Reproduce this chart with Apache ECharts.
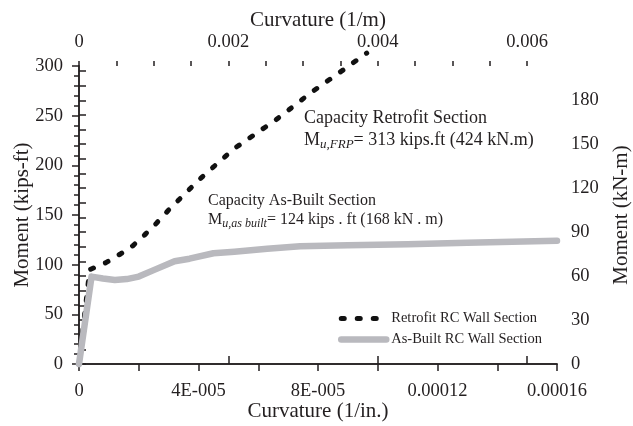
<!DOCTYPE html>
<html>
<head>
<meta charset="utf-8">
<script src="https://cdn.jsdelivr.net/npm/echarts@6/dist/echarts.min.js"></script>
<style>
  html, body { margin: 0; padding: 0; background: #fff; }
  #chart { width: 633px; height: 426px; }
</style>
</head>
<body>
<div id="chart"></div>
<script>
// Moment-curvature response of the RC wall section.
// Curvature in 1/in., moment in kips-ft.
const retrofitCurvature = [0, 3.6e-6, 9e-6, 1.4e-5, 1.8e-5, 2.2e-5, 2.6e-5, 3.0e-5, 3.4e-5, 4.0e-5, 5.2e-5, 6.6e-5, 7.8e-5, 8.7e-5, 9.63e-5];
const retrofitMoment    = [0, 95, 102, 111, 119, 130, 142, 155, 167, 185, 217, 246, 274, 293, 313];

const asBuiltCurvature = [0, 4.2e-6, 8e-6, 1.2e-5, 1.6e-5, 2.0e-5, 2.5e-5, 3.2e-5, 3.7e-5, 4.5e-5, 5.2e-5, 6.3e-5, 7.4e-5, 9e-5, 1.1e-4, 1.3e-4, 1.6e-4];
const asBuiltMoment    = [0, 88, 86, 84.5, 85.5, 88, 94.5, 103.5, 106, 111.5, 113, 116, 118.5, 119.5, 120.5, 122, 124];

// Axis ticks and labels
const bottomTickLabels = ['0', '4E-005', '8E-005', '0.00012', '0.00016'];
const topTickValues = [0, 0.002, 0.004, 0.006];
const topTickLabels = ['0', '0.002', '0.004', '0.006'];
const topMinorValues = [0, 0.0005, 0.001, 0.0015, 0.002, 0.0025, 0.003, 0.0035, 0.004, 0.0045, 0.005, 0.0055, 0.006];
const rightLabelValues = [0, 30, 60, 90, 120, 150, 180];
const rightTickValues = [0, 10, 20, 30, 40, 50, 60, 70, 80, 90, 100, 110, 120, 130, 140, 150, 160, 170, 180, 190, 200];

const seriesNames = ['Retrofit RC Wall Section', 'As-Built RC Wall Section'];

const FONT = '"Liberation Serif", "Times New Roman", serif';
const INK = '#231f20';
const axisLine = { show: true, lineStyle: { color: INK, width: 1.5 } };
const labelStyle = { color: INK, fontFamily: FONT, fontSize: 18.5 };
const nameStyle = { color: INK, fontFamily: FONT, fontSize: 21 };

const retrofitLine = { color: '#111', width: 5, type: [3, 13], cap: 'round' };
const asBuiltLine = { color: '#b9b9be', width: 6.5, type: 'solid', cap: 'round', join: 'round' };

const pairs = (xs, ys) => xs.map((x, i) => [x, ys[i]]);

const chart = echarts.init(document.getElementById('chart'), null, { renderer: 'canvas' });

const option = {
  backgroundColor: '#fff',
  animation: false,
  grid: { left: 79, right: 76, top: 66, bottom: 62, containLabel: false, outerBoundsMode: 'none' },
  xAxis: [
    {
      type: 'value', position: 'bottom', min: 0, max: 1.6e-4, interval: 4e-5,
      name: 'Curvature (1/in.)', nameLocation: 'middle', nameGap: 37, nameMoveOverlap: false, nameTextStyle: nameStyle,
      axisLine,
      axisTick: { show: true, inside: false, length: 7, lineStyle: { color: INK, width: 1.5 } },
      minorTick: { show: true, splitNumber: 2, length: 7, lineStyle: { color: INK, width: 1.5 } },
      splitLine: { show: false },
      axisLabel: {
        ...labelStyle, margin: 18,
        formatter: (v) => bottomTickLabels[Math.round(v / 4e-5)]
      }
    },
    {
      type: 'value', position: 'top', min: 0, max: 0.0064,
      name: 'Curvature (1/m)', nameLocation: 'middle', nameGap: 35, nameMoveOverlap: false, nameTextStyle: nameStyle,
      axisLine,
      axisTick: { show: true, inside: false, length: 8, customValues: topTickValues, lineStyle: { color: INK, width: 1.5 } },
      splitLine: { show: false },
      axisLabel: {
        ...labelStyle, margin: 14, customValues: topTickValues,
        formatter: (v) => topTickLabels[Math.round(v / 0.002)]
      }
    },
    {
      // minor ticks of the top axis
      type: 'value', position: 'top', min: 0, max: 0.0064,
      axisLine: { show: false },
      axisTick: { show: true, inside: false, length: 5, customValues: topMinorValues, lineStyle: { color: INK, width: 1.5 } },
      axisLabel: { show: false },
      splitLine: { show: false }
    }
  ],
  yAxis: [
    {
      type: 'value', position: 'left', min: 0, max: 300, interval: 50,
      name: 'Moment (kips-ft)', nameLocation: 'middle', nameGap: 46, nameMoveOverlap: false, nameTextStyle: nameStyle,
      axisLine,
      axisTick: { show: true, inside: false, length: 7, lineStyle: { color: INK, width: 1.5 } },
      minorTick: { show: true, splitNumber: 5, length: 5, lineStyle: { color: INK, width: 1.5 } },
      splitLine: { show: false },
      axisLabel: { ...labelStyle, margin: 16 }
    },
    {
      type: 'value', position: 'right', min: 0, max: 203.4,
      name: 'Moment (kN-m)', nameLocation: 'middle', nameGap: 54, nameMoveOverlap: false, nameTextStyle: nameStyle,
      axisLine,
      axisTick: { show: true, inside: false, length: 7, customValues: rightTickValues, lineStyle: { color: INK, width: 1.5 } },
      splitLine: { show: false },
      axisLabel: { ...labelStyle, margin: 14, customValues: rightLabelValues }
    }
  ],
  legend: {
    orient: 'vertical', left: 333, top: 306,
    itemWidth: 45, itemHeight: 14, itemGap: 6,
    itemStyle: { opacity: 0 },
    textStyle: { color: INK, fontFamily: FONT, fontSize: 14.5 },
    data: [
      { name: seriesNames[0], lineStyle: retrofitLine },
      { name: seriesNames[1], lineStyle: asBuiltLine }
    ]
  },
  graphic: [
    {
      type: 'text', left: 304, top: 109,
      style: { text: 'Capacity Retrofit Section', font: '18px ' + FONT, fill: INK }
    },
    {
      type: 'text', left: 304, top: 131,
      style: {
        text: '{m|M}{s|u,FRP}{m|= 313 kips.ft (424 kN.m)}',
        rich: {
          m: { fontFamily: FONT, fontSize: 18, lineHeight: 22, verticalAlign: 'middle', fill: INK },
          s: { fontFamily: FONT, fontSize: 13, fontStyle: 'italic', lineHeight: 22, verticalAlign: 'bottom', fill: INK }
        }
      }
    },
    {
      type: 'text', left: 208, top: 193,
      style: { text: 'Capacity As-Built Section', font: '16px ' + FONT, fill: INK }
    },
    {
      type: 'text', left: 208, top: 212,
      style: {
        text: '{m|M}{s|u,as built}{m|= 124 kips . ft (168 kN . m)}',
        rich: {
          m: { fontFamily: FONT, fontSize: 16, lineHeight: 20, verticalAlign: 'middle', fill: INK },
          s: { fontFamily: FONT, fontSize: 12, fontStyle: 'italic', lineHeight: 20, verticalAlign: 'bottom', fill: INK }
        }
      }
    }
  ],
  series: [
    {
      name: seriesNames[0], type: 'line', xAxisIndex: 0, yAxisIndex: 0,
      data: pairs(retrofitCurvature, retrofitMoment),
      symbol: 'none', clip: false, z: 2,
      lineStyle: retrofitLine,
      itemStyle: { color: '#111' }
    },
    {
      name: seriesNames[1], type: 'line', xAxisIndex: 0, yAxisIndex: 0,
      data: pairs(asBuiltCurvature, asBuiltMoment),
      symbol: 'none', clip: false, z: 3,
      lineStyle: asBuiltLine,
      itemStyle: { color: '#b9b9be' }
    }
  ]
};

chart.setOption(option);
</script>
</body>
</html>
